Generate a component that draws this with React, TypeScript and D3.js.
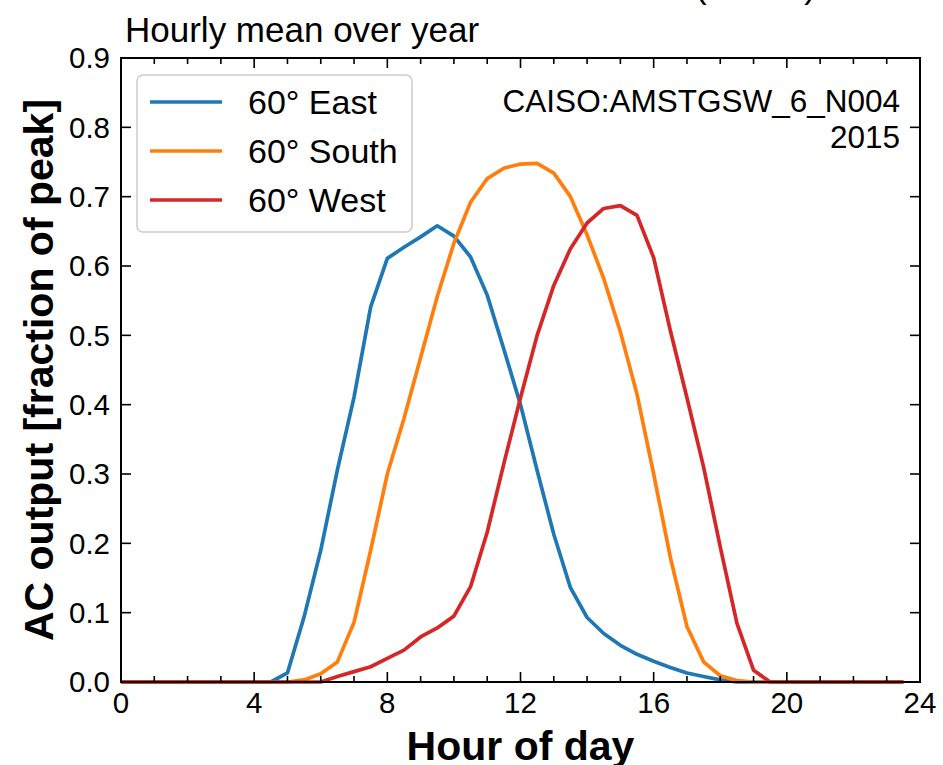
import React from "react";
import * as d3 from "d3";

// Half-hourly hour-of-day positions (0.0 .. 23.5)
const hours: number[] = d3.range(0, 24, 0.5);

// Mean AC output, fraction of peak, one value per half hour
const eastValues: number[] = [
  0, 0, 0, 0, 0, 0, 0, 0, 0, 0, 0.013, 0.094, 0.19, 0.306, 0.411, 0.541,
  0.611, 0.627, 0.642, 0.658, 0.643, 0.613, 0.558, 0.48, 0.4, 0.305, 0.213, 0.136,
  0.093, 0.07, 0.053, 0.04, 0.03, 0.021, 0.013, 0.008, 0.003, 0, 0, 0,
  0, 0, 0, 0, 0, 0, 0, 0,
];
const southValues: number[] = [
  0, 0, 0, 0, 0, 0, 0, 0, 0, 0, 0, 0.003, 0.012, 0.029, 0.086, 0.19,
  0.3, 0.38, 0.468, 0.556, 0.633, 0.692, 0.726, 0.741, 0.747, 0.748, 0.734, 0.7,
  0.645, 0.582, 0.505, 0.415, 0.3, 0.18, 0.08, 0.029, 0.009, 0.002, 0, 0,
  0, 0, 0, 0, 0, 0, 0, 0,
];
const westValues: number[] = [
  0, 0, 0, 0, 0, 0, 0, 0, 0, 0, 0, 0, 0, 0.008, 0.015, 0.022,
  0.034, 0.046, 0.065, 0.078, 0.095, 0.1375, 0.216, 0.315, 0.41, 0.5, 0.572, 0.625,
  0.662, 0.683, 0.687, 0.673, 0.612, 0.507, 0.41, 0.31, 0.195, 0.085, 0.017, 0,
  0, 0, 0, 0, 0, 0, 0, 0,
];

const seriesNames: string[] = ["60° East", "60° South", "60° West"];
const seriesColors: string[] = ["#1f77b4", "#ff7f0e", "#d62728"];

const xMajorTicks: number[] = [0, 4, 8, 12, 16, 20, 24];
const xMinorTicks: number[] = d3.range(0, 25, 1);
const yMajorTicks: number[] = [0, 0.1, 0.2, 0.3, 0.4, 0.5, 0.6, 0.7, 0.8, 0.9];

const titleLines: string[] = ["Simulated fixed-tilt solar at the node (60° tilt)", "Hourly mean over year"];
const nodeLabel = "CAISO:AMSTGSW_6_N004";
const yearLabel = "2015";
const xLabel = "Hour of day";
const yLabel = "AC output [fraction of peak]";

const W = 943;
const H = 765;
const left = 121;
const right = 920;
const top = 58;
const bottom = 682;
const FONT = "'Liberation Sans', Arial, Helvetica, sans-serif";

export default function App() {
  const x = d3.scaleLinear().domain([0, 24]).range([left, right]);
  const y = d3.scaleLinear().domain([0, 0.9]).range([bottom, top]);
  const line = d3
    .line<[number, number]>()
    .x((d) => x(d[0]))
    .y((d) => y(d[1]));

  const allSeries = [eastValues, southValues, westValues].map((vals) =>
    hours.map((h, i) => [h, vals[i]] as [number, number])
  );

  const majorLen = 10;
  const minorLen = 6;
  const fmt = d3.format(".1f");

  const legendX = 137;
  const legendY = 75;
  const rowGap = 49;

  return (
    <svg
      width={W}
      height={H}
      style={{ position: "absolute", left: 0, top: 0, background: "#fff" }}
      fontFamily={FONT}
    >
      <rect x={0} y={0} width={W} height={H} fill="#fff" />

      {/* titles */}
      <text x={816} y={-2} fontSize={35} textAnchor="end" fill="#000">
        {titleLines[0]}
      </text>
      <text x={125} y={42} fontSize={35} fill="#000">
        {titleLines[1]}
      </text>

      {/* series */}
      <g>
        {allSeries.map((pts, i) => (
          <path
            key={seriesNames[i]}
            d={line(pts) || ""}
            fill="none"
            stroke={seriesColors[i]}
            strokeWidth={3.7}
            strokeLinejoin="round"
          />
        ))}
      </g>

      {/* ticks (inward, on all four sides) */}
      <g stroke="#000" strokeWidth={1.6}>
        {xMinorTicks.map((t) => {
          const len = xMajorTicks.includes(t) ? majorLen : minorLen;
          return (
            <g key={"xt" + t}>
              <line x1={x(t)} x2={x(t)} y1={bottom} y2={bottom - len} />
              <line x1={x(t)} x2={x(t)} y1={top} y2={top + len} />
            </g>
          );
        })}
        {yMajorTicks.map((t) => (
          <g key={"yt" + t}>
            <line x1={left} x2={left + majorLen} y1={y(t)} y2={y(t)} />
            <line x1={right} x2={right - majorLen} y1={y(t)} y2={y(t)} />
          </g>
        ))}
      </g>

      {/* frame */}
      <rect
        x={left}
        y={top}
        width={right - left}
        height={bottom - top}
        fill="none"
        stroke="#000"
        strokeWidth={2}
      />

      {/* tick labels */}
      {xMajorTicks.map((t) => (
        <text key={"xl" + t} x={x(t)} y={713} fontSize={29.5} textAnchor="middle" fill="#000">
          {t}
        </text>
      ))}
      {yMajorTicks.map((t) => (
        <text
          key={"yl" + t}
          x={110}
          y={y(t)}
          dy="0.35em"
          fontSize={29.5}
          textAnchor="end"
          fill="#000"
        >
          {fmt(t)}
        </text>
      ))}

      {/* axis labels */}
      <text x={(left + right) / 2} y={760} fontSize={41} fontWeight="bold" textAnchor="middle" fill="#000">
        {xLabel}
      </text>
      <text
        transform={`translate(53, ${(top + bottom) / 2}) rotate(-90)`}
        fontSize={41}
        fontWeight="bold"
        textAnchor="middle"
        fill="#000"
      >
        {yLabel}
      </text>

      {/* node annotation */}
      <text x={900} y={112} fontSize={31.5} textAnchor="end" fill="#000">
        {nodeLabel}
      </text>
      <text x={900} y={148} fontSize={31.5} textAnchor="end" fill="#000">
        {yearLabel}
      </text>

      {/* legend */}
      <g>
        <rect
          x={legendX}
          y={legendY}
          width={275}
          height={157}
          rx={6}
          fill="#fff"
          fillOpacity={0.8}
          stroke="#cccccc"
          strokeWidth={1.5}
        />
        {seriesNames.map((name, i) => {
          const ly = legendY + 27 + i * rowGap;
          return (
            <g key={"lg" + name}>
              <line x1={150} x2={222} y1={ly} y2={ly} stroke={seriesColors[i]} strokeWidth={3.7} />
              <text x={248} y={ly} dy="0.35em" fontSize={34} fill="#000">
                {name}
              </text>
            </g>
          );
        })}
      </g>
    </svg>
  );
}
